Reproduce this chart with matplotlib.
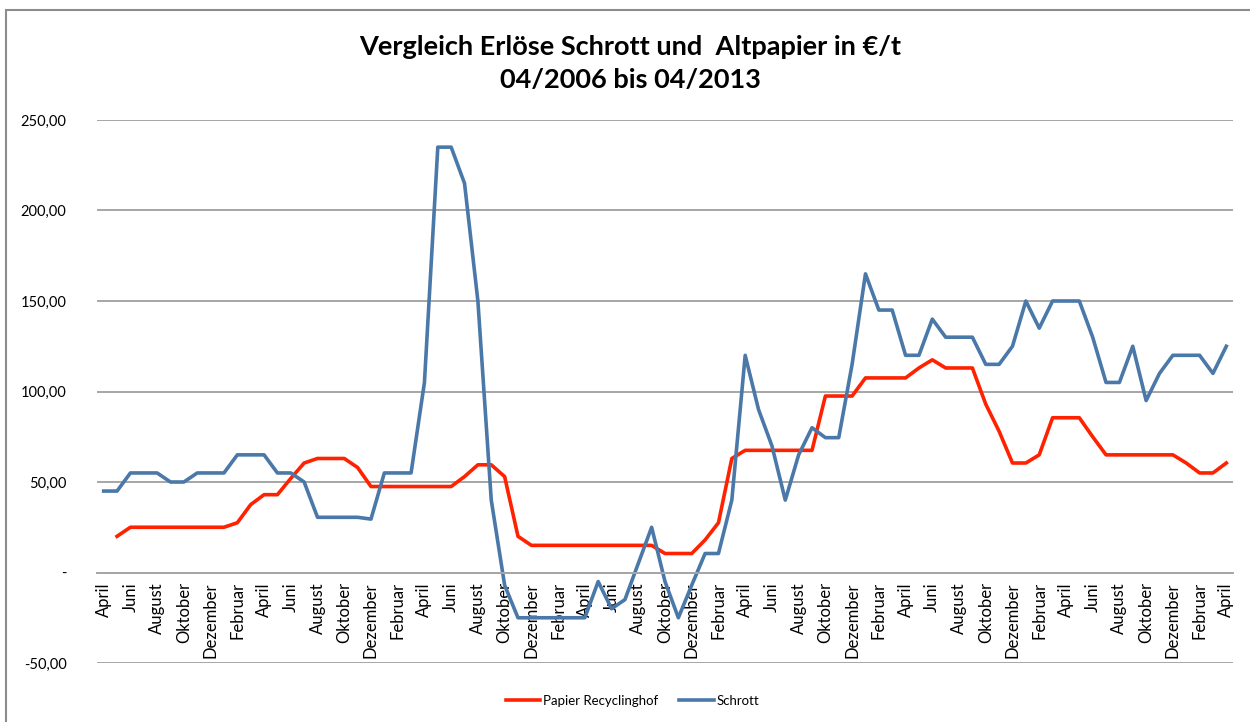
import matplotlib
matplotlib.use("Agg")
import matplotlib.pyplot as plt
import numpy as np
from matplotlib.patches import Rectangle

plt.rcParams["font.family"] = ["Lato", "DejaVu Sans"]

# monthly values 04/2006 .. 04/2013 (85 months), in EUR/t
papier = [np.nan, 20, 25, 25, 25, 25, 25, 25, 25, 25,
          27.5, 37.5, 43, 43, 52, 60.5, 63, 63, 63, 58,
          47.5, 47.5, 47.5, 47.5, 47.5, 47.5, 47.5, 53, 59.5, 59.5,
          53, 20, 15, 15, 15, 15, 15, 15, 15, 15,
          15, 15, 10.5, 10.5, 10.5, 18, 27.5, 63, 67.5, 67.5,
          67.5, 67.5, 67.5, 67.5, 97.5, 97.5, 97.5, 107.5, 107.5, 107.5,
          107.5, 113, 117.5, 113, 113, 113, 93, 78, 60.5, 60.5,
          65, 85.5, 85.5, 85.5, 75, 65, 65, 65, 65, 65,
          65, 60.5, 55, 55, 60.5]
schrott = [45, 45, 55, 55, 55, 50, 50, 55, 55, 55,
           65, 65, 65, 55, 55, 50, 30.5, 30.5, 30.5, 30.5,
           29.5, 55, 55, 55, 105, 235, 235, 215, 150, 40,
           -7, -25, -25, -25, -25, -25, -25, -5, -20, -15,
           5, 25, -5, -25, -7, 10.5, 10.5, 40, 120, 90,
           70, 40, 65, 80, 74.5, 74.5, 115, 165, 145, 145,
           120, 120, 140, 130, 130, 130, 115, 115, 125, 150,
           135, 150, 150, 150, 130, 105, 105, 125, 95, 110,
           120, 120, 120, 110, 125]

# every second month is labelled
tick_labels = ["April", "Juni", "August", "Oktober", "Dezember", "Februar"] * 7 + ["April"]

x = np.arange(len(schrott))

fig = plt.figure(figsize=(12.5, 7.22), dpi=100)
ax = fig.add_axes([0.0776, 0.0817, 0.9088, 0.7521])

fig.patches.append(Rectangle((0.0048, -0.1), 1.2, 1.0868, transform=fig.transFigure,
                             fill=False, edgecolor="#8c8c8c", lw=1.5))

# axis line through 0 (set before the tick labels, it resets them)
for s in ["left", "top", "right"]:
    ax.spines[s].set_visible(False)
ax.spines["bottom"].set_position(("data", 0))
ax.spines["bottom"].set_color("#a6a6a6")
ax.spines["bottom"].set_linewidth(1.4)

ax.plot(x, papier, color="#FF2200", lw=2.6, label="Papier Recyclinghof", solid_joinstyle="round")
ax.plot(x, schrott, color="#4A78A8", lw=2.6, label="Schrott", solid_joinstyle="round")

ax.set_xlim(-0.5, len(x) - 0.5)
ax.set_ylim(-50, 250)
ax.set_yticks(range(-50, 251, 50))
ax.set_yticklabels(["-" if v == 0 else f"{v:.2f}".replace(".", ",") for v in range(-50, 251, 50)])
ax.set_xticks(x[::2])
ax.set_xticklabels(tick_labels, rotation=90, va="top", ha="center")

ax.grid(axis="y", color="#a6a6a6", lw=1.4)
ax.set_axisbelow(True)
ax.tick_params(axis="x", length=0, pad=7, labelsize=12)
ax.tick_params(axis="y", length=0, pad=22, labelsize=10.5)

fig.text(0.504, 1 - 47 / 722, "Vergleich Erlöse Schrott und  Altpapier in €/t",
         ha="center", va="center", fontsize=19.5, fontweight="bold")
fig.text(0.504, 1 - 80 / 722, "04/2006 bis 04/2013",
         ha="center", va="center", fontsize=19.5, fontweight="bold")

fig.legend(loc="center", bbox_to_anchor=(0.506, 1 - 701 / 722), ncol=2, frameon=False,
           fontsize=9.5, handlelength=2.6, handletextpad=0.2, columnspacing=1.6)

fig.savefig("out.png", dpi=100)
